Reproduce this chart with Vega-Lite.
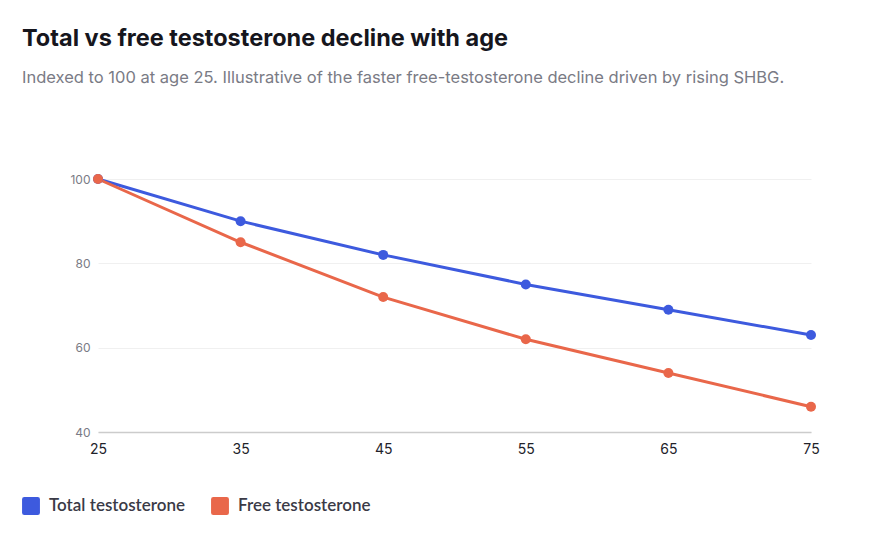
{
  "$schema": "https://vega.github.io/schema/vega-lite/v6.json",
  "autosize": {"type": "none"},
  "padding": {"left": 98, "top": 179, "right": 65, "bottom": 110},
  "width": 713,
  "height": 253,
  "background": "white",
  "title": {
    "text": "Total vs free testosterone decline with age",
    "subtitle": "Indexed to 100 at age 25. Illustrative of the faster free-testosterone decline driven by rising SHBG.",
    "anchor": "start",
    "frame": "group",
    "dx": -76,
    "offset": 87,
    "font": "Inter",
    "fontSize": 23.5,
    "fontWeight": "bold",
    "color": "#16161d",
    "subtitleFont": "Inter",
    "subtitleFontSize": 16.5,
    "subtitleColor": "#7a7b85",
    "subtitlePadding": 19
  },
  "data": {
    "values": [
      {"age": 25, "series": "Total testosterone", "value": 100},
      {"age": 35, "series": "Total testosterone", "value": 90},
      {"age": 45, "series": "Total testosterone", "value": 82},
      {"age": 55, "series": "Total testosterone", "value": 75},
      {"age": 65, "series": "Total testosterone", "value": 69},
      {"age": 75, "series": "Total testosterone", "value": 63},
      {"age": 25, "series": "Free testosterone", "value": 100},
      {"age": 35, "series": "Free testosterone", "value": 85},
      {"age": 45, "series": "Free testosterone", "value": 72},
      {"age": 55, "series": "Free testosterone", "value": 62},
      {"age": 65, "series": "Free testosterone", "value": 54},
      {"age": 75, "series": "Free testosterone", "value": 46}
    ]
  },
  "encoding": {
    "x": {
      "field": "age",
      "type": "quantitative",
      "scale": {"domain": [25, 75], "nice": false, "zero": false},
      "axis": {
        "title": null,
        "values": [25, 35, 45, 55, 65, 75],
        "grid": false,
        "ticks": false,
        "labelFlush": false,
        "domainColor": "#cccccc",
        "domainWidth": 1.5,
        "labelFont": "Inter",
        "labelFontSize": 14,
        "labelColor": "#22222a",
        "labelPadding": 10
      }
    },
    "y": {
      "field": "value",
      "type": "quantitative",
      "scale": {"domain": [40, 100], "nice": false, "zero": false},
      "axis": {
        "title": null,
        "values": [40, 60, 80, 100],
        "domain": false,
        "ticks": false,
        "gridColor": "#f0f0f0",
        "labelFont": "Inter",
        "labelFontSize": 12,
        "labelColor": "#7a7b85",
        "labelPadding": 8
      }
    },
    "color": {
      "field": "series",
      "type": "nominal",
      "scale": {
        "domain": ["Total testosterone", "Free testosterone"],
        "range": ["#3d5ade", "#e9674a"]
      },
      "legend": {
        "title": null,
        "orient": "none",
        "direction": "horizontal",
        "legendX": -76,
        "legendY": 318,
        "symbolType": "M-1,-0.75Q-1,-1,-0.75,-1L0.75,-1Q1,-1,1,-0.75L1,0.75Q1,1,0.75,1L-0.75,1Q-1,1,-1,0.75Z",
        "symbolSize": 320,
        "symbolOpacity": 1,
        "symbolStrokeWidth": 0,
        "labelFont": "Lato",
        "labelFontSize": 17,
        "labelFontWeight": 600,
        "labelColor": "#3a3a46",
        "labelOffset": 9,
        "columnPadding": 25
      }
    }
  },
  "layer": [
    {"mark": {"type": "line", "strokeWidth": 3}},
    {"mark": {"type": "point", "filled": true, "size": 100, "opacity": 1}}
  ],
  "config": {"view": {"stroke": null}}
}
